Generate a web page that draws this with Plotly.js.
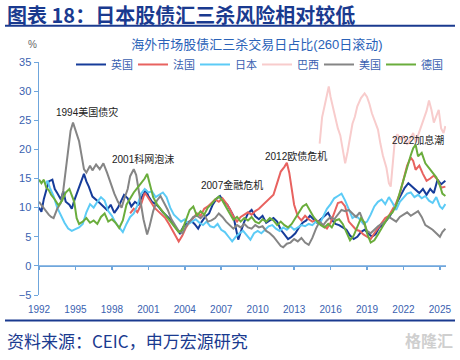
<!DOCTYPE html>
<html><head><meta charset="utf-8">
<script src="https://cdn.plot.ly/plotly-3.0.1.min.js"></script>
<style>html,body{margin:0;padding:0;background:#fff}#c{width:460px;height:360px}</style>
</head><body><div id="c"></div>
<script>
// ---- data (decimal years, percent) ----
const ukX=[1992.0,1992.2,1992.4,1992.6,1992.8,1993.1,1993.3,1993.5,1993.8,1994.0,1994.2,1994.5,1994.7,1994.9,1995.2,1995.5,1995.7,1995.9,1996.1,1996.4,1996.7,1997.0,1997.3,1997.6,1997.9,1998.2,1998.5,1998.8,1999.0,1999.3,1999.6,1999.9,2000.2,2000.5,2000.8,2001.0,2001.3,2001.6,2001.9,2002.2,2002.5,2002.8,2003.1,2003.4,2003.6,2003.9,2004.2,2004.5,2004.8,2005.1,2005.4,2005.7,2006.0,2006.3,2006.6,2006.9,2007.2,2007.5,2007.8,2008.0,2008.2,2008.4,2008.6,2008.9,2009.2,2009.5,2009.8,2010.1,2010.4,2010.7,2011.0,2011.3,2011.6,2011.9,2012.2,2012.5,2012.8,2013.1,2013.4,2013.7,2014.0,2014.3,2014.6,2014.9,2015.2,2015.5,2015.8,2016.1,2016.4,2016.7,2017.0,2017.3,2017.6,2017.9,2018.2,2018.5,2018.8,2019.1,2019.4,2019.7,2020.0,2020.3,2020.6,2020.9,2021.2,2021.5,2021.8,2022.1,2022.4,2022.7,2023.0,2023.3,2023.6,2023.9,2024.2,2024.5,2024.8,2025.1,2025.45];
const ukY=[10.0,9.3,11.5,13.0,14.5,14.8,13.2,12.5,11.4,12.8,11.0,10.5,9.8,11.2,13.0,14.8,15.8,14.5,13.6,11.9,11.4,10.8,10.2,9.6,10.5,9.1,10.0,11.4,12.2,11.6,10.2,11.0,10.5,12.0,13.0,12.0,11.0,10.6,10.0,9.2,8.6,8.0,7.0,6.2,5.6,6.8,7.4,7.8,7.2,6.4,7.6,8.5,9.0,10.5,11.5,12.0,11.0,10.5,9.2,8.6,6.5,4.5,5.8,7.6,9.0,9.6,8.5,8.0,8.6,7.4,7.8,8.2,7.6,6.2,5.4,4.6,5.0,5.6,6.6,7.4,7.8,8.6,8.0,7.4,8.0,8.6,9.1,7.9,7.2,7.0,6.6,6.2,5.2,4.6,5.0,5.8,6.2,5.6,5.0,5.4,6.6,7.0,7.8,8.6,9.8,11.0,12.0,13.4,14.2,13.6,13.0,12.5,13.2,12.2,13.2,12.5,14.8,14.0,14.6];

const frX=[1999.5,1999.8,2000.1,2000.4,2000.7,2000.9,2001.2,2001.5,2001.8,2002.1,2002.4,2002.7,2003.0,2003.3,2003.5,2003.8,2004.1,2004.4,2004.7,2005.0,2005.3,2005.6,2005.9,2006.2,2006.5,2006.8,2007.1,2007.4,2007.7,2008.0,2008.3,2008.6,2008.9,2009.2,2009.5,2009.8,2010.1,2010.4,2010.7,2011.0,2011.3,2011.6,2011.9,2012.2,2012.4,2012.6,2012.8,2013.0,2013.3,2013.6,2013.9,2014.2,2014.5,2014.8,2015.1,2015.4,2015.7,2016.0,2016.3,2016.6,2016.9,2017.2,2017.5,2017.8,2018.1,2018.4,2018.7,2019.0,2019.3,2019.6,2019.9,2020.2,2020.5,2020.8,2021.1,2021.4,2021.7,2022.0,2022.3,2022.6,2022.8,2023.0,2023.3,2023.6,2023.9,2024.2,2024.5,2024.8,2025.1,2025.45];
const frY=[9.0,9.8,9.2,10.5,12.5,12.0,11.0,10.0,9.4,8.8,8.2,7.2,6.0,4.8,4.2,5.2,6.6,7.6,8.2,9.0,8.6,9.8,10.2,10.8,11.4,11.0,11.6,10.8,9.8,8.5,7.6,8.4,8.8,9.2,8.8,9.4,9.8,10.4,10.9,11.6,12.2,14.2,16.2,17.0,17.7,16.0,13.0,10.5,8.5,7.8,8.6,8.0,7.6,7.9,7.4,6.9,6.4,7.4,9.0,10.8,11.0,10.2,7.6,6.8,6.2,6.0,5.4,5.0,4.6,5.6,6.4,7.4,8.2,8.6,9.6,10.8,12.4,15.0,17.2,18.6,18.0,16.5,17.2,15.8,14.6,15.0,15.5,14.8,13.4,13.6];

const jpX=[1992.5,1992.7,1992.9,1993.2,1993.5,1993.8,1994.1,1994.4,1994.7,1995.0,1995.3,1995.6,1995.9,1996.2,1996.5,1996.8,1997.1,1997.4,1997.7,1998.0,1998.3,1998.6,1998.9,1999.2,1999.5,1999.8,2000.1,2000.4,2000.7,2001.0,2001.3,2001.6,2001.9,2002.2,2002.5,2002.8,2003.1,2003.4,2003.7,2004.0,2004.3,2004.6,2004.9,2005.2,2005.5,2005.8,2006.1,2006.4,2006.7,2007.0,2007.3,2007.6,2007.9,2008.2,2008.5,2008.8,2009.1,2009.4,2009.7,2010.0,2010.3,2010.6,2010.9,2011.2,2011.5,2011.8,2012.1,2012.4,2012.7,2013.0,2013.3,2013.6,2013.9,2014.2,2014.5,2014.8,2015.1,2015.4,2015.7,2016.0,2016.3,2016.6,2016.9,2017.2,2017.5,2017.8,2018.1,2018.4,2018.7,2019.0,2019.3,2019.6,2019.9,2020.2,2020.5,2020.8,2021.1,2021.4,2021.7,2022.0,2022.3,2022.6,2022.9,2023.2,2023.5,2023.8,2024.1,2024.4,2024.7,2025.0,2025.2,2025.45];
const jpY=[14.0,14.6,13.4,12.0,10.0,8.6,7.4,6.4,6.0,6.3,6.6,7.2,9.2,10.6,10.0,11.0,11.8,11.2,9.4,8.6,7.4,6.6,5.8,7.2,8.4,9.0,10.4,12.4,13.2,12.6,12.8,11.8,12.2,12.6,11.8,10.0,8.8,8.2,7.6,8.0,7.2,7.6,8.0,7.4,7.0,7.6,6.8,6.6,7.2,6.2,5.8,5.0,4.2,5.0,5.6,6.0,5.2,4.5,5.6,6.0,5.6,6.2,6.8,7.0,6.4,6.0,6.6,6.2,6.8,6.2,6.6,7.0,6.8,7.2,7.0,7.6,7.2,8.4,9.8,10.6,11.6,12.0,12.4,11.2,9.6,8.2,8.6,8.0,7.2,7.6,8.8,10.2,11.0,11.4,10.6,11.8,10.8,9.6,11.0,11.8,12.4,12.6,11.8,12.2,11.6,12.0,11.2,10.8,11.8,10.2,9.8,10.6];

const brX=[2015.1,2015.3,2015.5,2015.7,2015.85,2016.0,2016.2,2016.4,2016.6,2016.8,2017.0,2017.2,2017.4,2017.6,2017.8,2018.0,2018.2,2018.5,2018.8,2019.0,2019.2,2019.4,2019.6,2019.9,2020.1,2020.3,2020.6,2020.8,2020.95,2021.1,2021.3,2021.5,2021.8,2022.0,2022.3,2022.5,2022.8,2023.0,2023.3,2023.6,2023.9,2024.1,2024.3,2024.5,2024.7,2024.9,2025.1,2025.3,2025.45];
const brY=[21.0,25.5,27.4,29.6,30.8,29.0,27.2,25.0,23.6,22.4,19.8,17.6,19.6,22.0,24.4,25.6,27.4,28.8,29.6,29.0,27.8,26.2,25.0,23.4,21.0,19.0,16.8,14.2,13.6,17.6,21.8,22.6,21.6,22.4,20.8,21.6,22.8,21.2,23.0,24.8,26.6,28.4,26.8,24.6,25.6,26.8,23.6,22.8,24.0];

const usX=[1992.0,1992.2,1992.4,1992.6,1992.8,1993.0,1993.2,1993.5,1993.8,1994.0,1994.2,1994.4,1994.6,1994.8,1994.95,1995.1,1995.3,1995.5,1995.7,1995.9,1996.2,1996.4,1996.7,1997.0,1997.3,1997.6,1997.9,1998.2,1998.5,1998.8,1999.0,1999.3,1999.5,1999.8,2000.0,2000.3,2000.6,2000.9,2001.1,2001.4,2001.7,2002.0,2002.3,2002.6,2002.9,2003.2,2003.5,2003.8,2004.1,2004.4,2004.7,2005.0,2005.3,2005.6,2005.9,2006.2,2006.5,2006.8,2007.1,2007.4,2007.7,2008.0,2008.3,2008.6,2008.9,2009.2,2009.5,2009.8,2010.1,2010.4,2010.7,2011.0,2011.3,2011.6,2011.9,2012.1,2012.4,2012.7,2013.0,2013.3,2013.6,2013.9,2014.2,2014.5,2014.8,2015.1,2015.4,2015.7,2016.0,2016.3,2016.6,2016.9,2017.2,2017.5,2017.8,2018.1,2018.4,2018.7,2019.0,2019.3,2019.6,2019.9,2020.2,2020.5,2020.8,2021.1,2021.4,2021.7,2022.0,2022.3,2022.6,2022.9,2023.2,2023.5,2023.8,2024.1,2024.4,2024.7,2025.0,2025.2,2025.45];
const usY=[11.0,10.4,9.8,9.2,8.8,8.4,8.2,9.8,10.8,13.0,16.5,20.0,23.2,24.6,23.6,22.8,21.4,19.0,16.6,16.0,17.2,16.4,17.4,16.6,17.6,16.0,14.0,12.4,11.0,10.0,11.4,13.2,15.4,16.6,15.6,11.8,8.0,5.4,6.8,9.4,11.2,12.0,10.8,9.6,8.0,7.0,6.0,5.6,6.8,7.6,8.4,8.6,8.2,8.8,7.6,7.8,8.2,9.0,8.4,7.6,7.0,6.4,7.0,6.6,7.2,6.6,6.4,7.0,6.6,6.8,6.0,5.6,5.0,4.2,3.4,3.2,3.8,4.0,4.6,4.2,4.8,4.0,3.6,4.8,6.4,7.6,7.0,7.8,8.4,8.0,8.8,9.6,9.4,9.6,9.0,8.4,9.2,7.6,6.0,5.6,6.2,6.8,7.2,7.6,8.4,8.0,7.6,8.4,8.8,9.2,8.6,9.0,9.4,8.4,7.0,6.6,6.2,5.6,5.0,5.8,6.4];

const deX=[1992.0,1992.2,1992.4,1992.6,1992.8,1993.0,1993.3,1993.6,1993.9,1994.2,1994.5,1994.7,1994.9,1995.1,1995.3,1995.6,1995.9,1996.2,1996.5,1996.8,1997.1,1997.4,1997.7,1998.0,1998.3,1998.6,1998.9,1999.2,1999.5,1999.8,2000.1,2000.4,2000.7,2000.9,2001.1,2001.4,2001.7,2002.0,2002.3,2002.6,2002.9,2003.2,2003.5,2003.8,2004.1,2004.4,2004.7,2005.0,2005.3,2005.6,2005.9,2006.2,2006.5,2006.8,2007.1,2007.4,2007.7,2008.0,2008.3,2008.6,2008.9,2009.2,2009.5,2009.8,2010.1,2010.4,2010.7,2011.0,2011.3,2011.6,2011.9,2012.2,2012.5,2012.8,2013.1,2013.4,2013.7,2014.0,2014.3,2014.6,2014.9,2015.2,2015.5,2015.8,2016.1,2016.4,2016.7,2017.0,2017.3,2017.6,2017.9,2018.2,2018.5,2018.8,2019.0,2019.3,2019.6,2019.9,2020.2,2020.5,2020.8,2021.1,2021.4,2021.7,2022.0,2022.3,2022.6,2022.8,2023.0,2023.2,2023.5,2023.8,2024.1,2024.4,2024.7,2025.0,2025.2,2025.45];
const deY=[14.8,14.2,14.8,13.4,13.0,12.2,11.4,10.4,11.2,12.6,13.2,12.2,11.0,8.2,7.2,7.6,8.2,7.4,7.8,7.2,8.4,9.0,7.6,8.0,7.4,6.5,7.8,10.5,11.6,12.6,13.4,14.2,15.0,15.8,14.0,11.8,10.6,9.8,9.0,8.0,7.4,6.4,5.8,6.2,8.0,9.6,10.2,8.6,9.4,8.8,10.0,10.6,11.4,11.9,11.2,10.2,9.0,7.9,8.4,7.6,8.2,7.8,8.4,7.6,7.3,8.0,7.6,8.2,7.8,7.0,7.6,7.0,6.6,7.2,8.2,9.4,10.2,10.6,9.4,8.4,7.6,7.0,6.6,7.2,6.6,7.8,8.0,7.2,5.8,4.4,5.2,6.8,8.2,7.4,5.6,4.0,4.4,5.4,6.4,7.6,8.6,9.2,10.4,12.6,14.8,17.2,19.0,20.2,20.8,18.8,19.4,17.6,16.8,16.2,15.2,13.8,12.4,12.0];

const seriesNames=['英国','法国','日本','巴西','美国','德国'];
const seriesColors=['#163c9a','#e8625f','#5ccbf6','#f8cccc','#858585','#6aad3c'];
const tickYears=[1992,1995,1998,2001,2004,2007,2010,2013,2016,2019,2022,2025];
const tickLabels=tickYears.map(String);

const notes=[
  {text:'1994美国债灾', x:1995.95, y:26.5},
  {text:'2001科网泡沫', x:2000.6, y:18.4},
  {text:'2007金融危机', x:2007.9, y:13.8},
  {text:'2012欧债危机', x:2013.15, y:18.9},
  {text:'2022加息潮', x:2023.2, y:21.6}
];

const xs=[ukX,frX,jpX,brX,usX,deX];
const ys=[ukY,frY,jpY,brY,usY,deY];
const traces=seriesNames.map((n,i)=>({
  x:xs[i], y:ys[i], name:n, type:'scatter', mode:'lines',
  line:{color:seriesColors[i], width:2}
}));

const FONT='Liberation Sans, Arial, Noto Sans CJK SC, sans-serif';
const axisBlue='#6fa6dc';
const labelBlue='#3a5fb0';
const px2x=p=>(p-39)/407;
const py2y=p=>(295.5-p)/234;

const layout={
  width:460, height:360,
  margin:{l:39,r:14,t:61.5,b:64.5},
  paper_bgcolor:'#fff', plot_bgcolor:'rgba(0,0,0,0)',
  font:{family:FONT, size:11, color:labelBlue},
  showlegend:true,
  legend:{orientation:'h', x:px2x(71), xanchor:'left', y:py2y(64), yanchor:'middle',
    font:{family:FONT,size:11,color:labelBlue}, bgcolor:'rgba(0,0,0,0)', entrywidth:17, entrywidthmode:'pixels', itemwidth:30, tracegroupgap:0},
  title:{text:'海外市场股债汇三杀交易日占比(260日滚动)', x:257/460, xanchor:'center', xref:'container',
    y:1-44/360, yanchor:'middle', yref:'container', font:{family:FONT,size:13,color:'#2a62b8'}},
  // x axis drawn along y = 0, tick labels pushed down to the bottom
  xaxis:{range:[1992,2025.5], tickmode:'array', tickvals:tickYears, ticktext:tickLabels,
    anchor:'free', position:5/40, side:'bottom',
    showline:true, linecolor:axisBlue, linewidth:1.5, showgrid:false, zeroline:false,
    ticks:'outside', ticklen:3, tickwidth:1.5, tickcolor:axisBlue, ticklabelstandoff:31,
    tickfont:{family:FONT,size:10,color:labelBlue}},
  yaxis:{range:[-5,35], dtick:5, tick0:0, showline:true, linecolor:axisBlue, linewidth:1.5, ticks:'outside', ticklen:4,
    tickcolor:axisBlue, showgrid:false, zeroline:false,
    tickfont:{family:FONT,size:11,color:labelBlue}},
  annotations:[
    ...notes.map(a=>({text:a.text, x:a.x, y:a.y, xref:'x', yref:'y', showarrow:false,
      font:{family:FONT,size:10,color:'#222'}, xanchor:'center', yanchor:'middle'})),
    {text:'图表 18：日本股债汇三杀风险相对较低', xref:'paper', yref:'paper', x:px2x(5), y:py2y(14),
      xanchor:'left', yanchor:'middle', showarrow:false,
      font:{family:'Noto Sans CJK SC, sans-serif', size:20, color:'#1a3a8f', weight:'bold'}},
    {text:'%', xref:'paper', yref:'paper', x:px2x(32), y:py2y(44), xanchor:'center', yanchor:'middle',
      showarrow:false, font:{family:FONT,size:10,color:'#666'}},
    {text:'资料来源：CEIC，申万宏源研究', xref:'paper', yref:'paper', x:px2x(5), y:py2y(341),
      xanchor:'left', yanchor:'middle', showarrow:false,
      font:{family:'Noto Sans CJK SC, sans-serif', size:17, color:'#1a3a8f'}},
    {text:'格隆汇', xref:'paper', yref:'paper', x:px2x(455), y:py2y(341),
      xanchor:'right', yanchor:'middle', showarrow:false,
      font:{family:'Noto Sans CJK SC, sans-serif', size:16, color:'#cfcfcf', weight:'bold'}}
  ],
  shapes:[
    {type:'line', xref:'paper', yref:'y', x0:0, x1:1, y0:0, y1:0, layer:'below',
      line:{color:axisBlue, width:1.5}},
    {type:'line', xref:'paper', yref:'paper', x0:px2x(5), x1:px2x(455), y0:py2y(25), y1:py2y(25),
      line:{color:'#1a3a8f', width:2}},
    {type:'line', xref:'paper', yref:'paper', x0:px2x(5), x1:px2x(455), y0:py2y(321), y1:py2y(321),
      line:{color:'#1a3a8f', width:2}}
  ]
};

Plotly.newPlot('c', traces, layout, {displayModeBar:false, staticPlot:true});
</script>
</body></html>
